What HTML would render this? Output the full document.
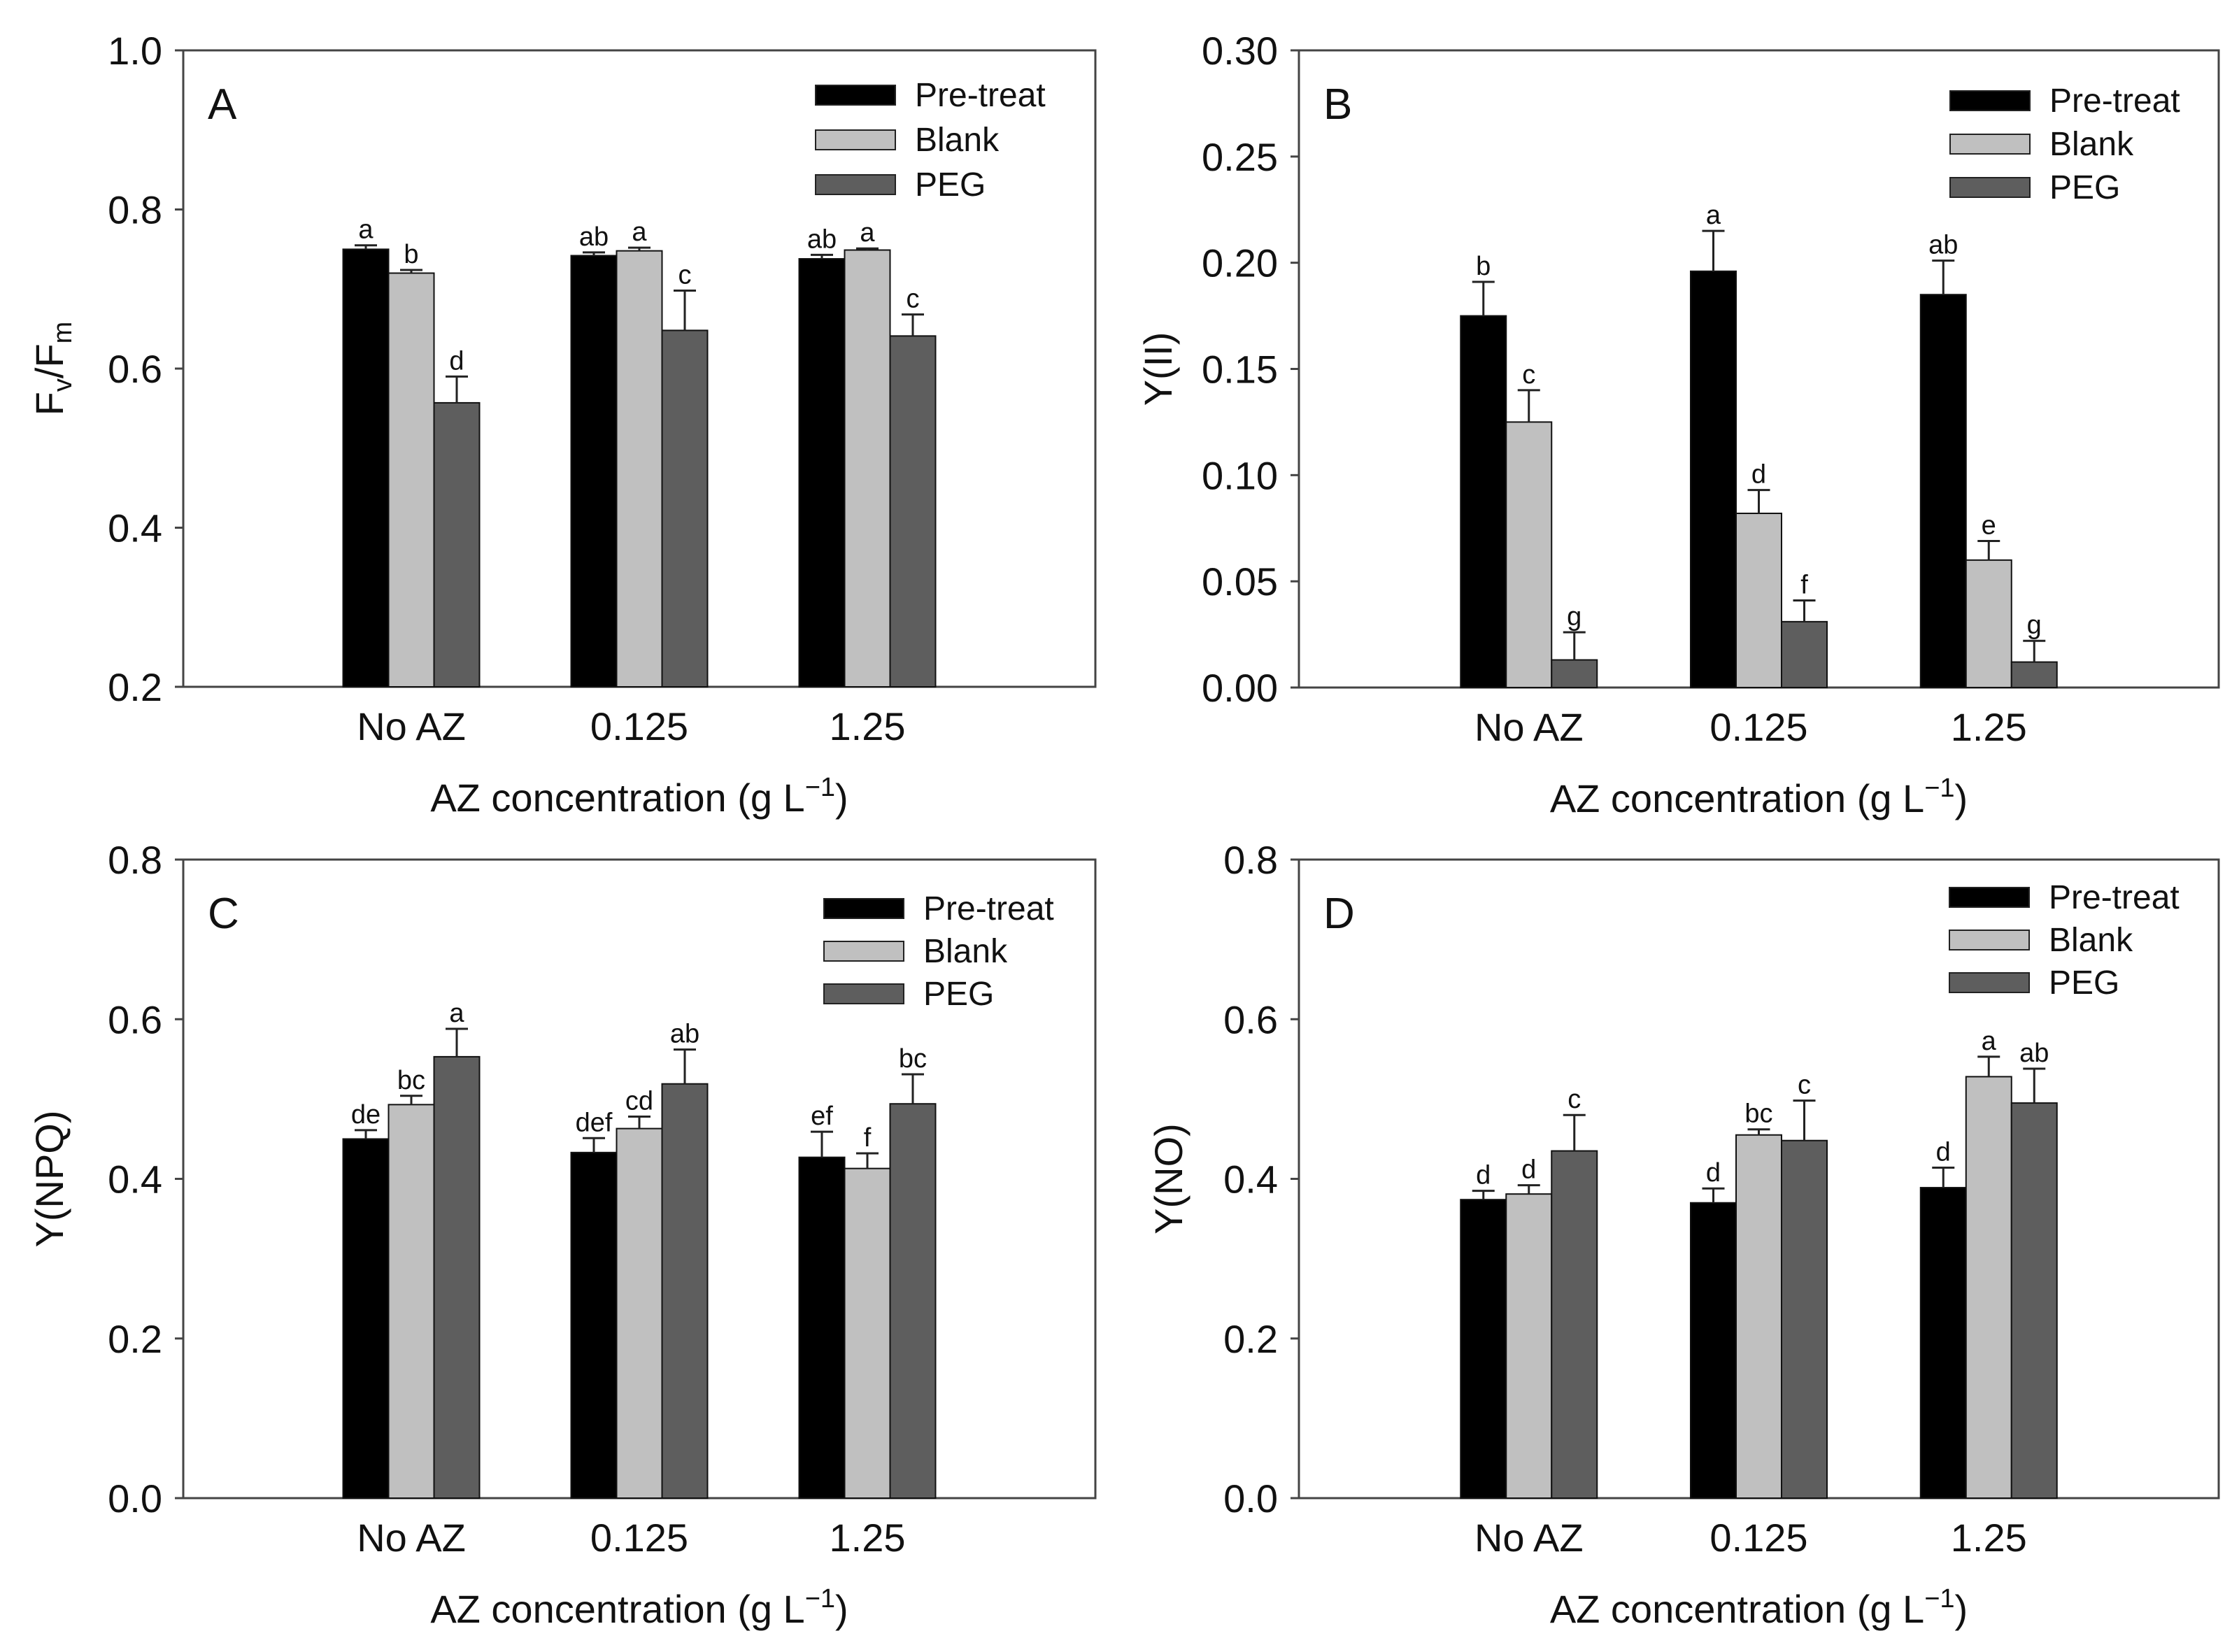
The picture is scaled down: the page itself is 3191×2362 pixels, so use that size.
<!DOCTYPE html>
<html><head><meta charset="utf-8"><style>
html,body{margin:0;padding:0;background:#fff}
svg{display:block}
text{font-family:"Liberation Sans",sans-serif;fill:#111}
</style></head><body>
<svg id="fig" width="3191" height="2362" viewBox="0 0 3191 2362" xmlns="http://www.w3.org/2000/svg"></svg>
<script>
const categories = ["No AZ","0.125","1.25"];
const seriesNames = ["Pre-treat","Blank","PEG"];
// Panel A
const aPre = [0.750,0.742,0.738], aPreErr=[0.005,0.004,0.005];
const aBlank = [0.720,0.748,0.749], aBlankErr=[0.004,0.004,0.002];
const aPeg = [0.557,0.648,0.641], aPegErr=[0.033,0.050,0.027];
const aLetters = [["a","ab","ab"],["b","a","a"],["d","c","c"]];
const aTicks = ["0.2","0.4","0.6","0.8","1.0"];
// Panel B
const bPre = [0.175,0.196,0.185], bPreErr=[0.016,0.019,0.016];
const bBlank = [0.125,0.082,0.060], bBlankErr=[0.015,0.011,0.009];
const bPeg = [0.013,0.031,0.012], bPegErr=[0.013,0.010,0.010];
const bLetters = [["b","a","ab"],["c","d","e"],["g","f","g"]];
const bTicks = ["0.00","0.05","0.10","0.15","0.20","0.25","0.30"];
// Panel C
const cPre = [0.450,0.433,0.427], cPreErr=[0.011,0.018,0.032];
const cBlank = [0.493,0.463,0.413], cBlankErr=[0.011,0.015,0.019];
const cPeg = [0.553,0.519,0.494], cPegErr=[0.035,0.043,0.037];
const cLetters = [["de","def","ef"],["bc","cd","f"],["a","ab","bc"]];
const cTicks = ["0.0","0.2","0.4","0.6","0.8"];
// Panel D
const dPre = [0.374,0.370,0.389], dPreErr=[0.011,0.018,0.025];
const dBlank = [0.381,0.455,0.528], dBlankErr=[0.011,0.007,0.025];
const dPeg = [0.435,0.448,0.495], dPegErr=[0.045,0.050,0.043];
const dLetters = [["d","d","d"],["d","bc","a"],["c","c","ab"]];
const dTicks = ["0.0","0.2","0.4","0.6","0.8"];

const NS="http://www.w3.org/2000/svg";
const svg=document.getElementById('fig');
const colors=["#000000","#c0c0c0","#5e5e5e"];
function mk(tag,attrs,parent){const e=document.createElementNS(NS,tag);for(const k in attrs)e.setAttribute(k,attrs[k]);(parent||svg).appendChild(e);return e;}

function panel(o){
  const g=mk('g',{});
  
  
  const L=o.x0,R=o.x1,T=o.y0,B=o.y1;
  const ymin=parseFloat(o.ticks[0]),ymax=parseFloat(o.ticks[o.ticks.length-1]);
  const ys=v=>B-(v-ymin)/(ymax-ymin)*(B-T);
  const xc=i=>L+(R-L)*(i+1)/4;
  const bw=65;
  const fr=mk('rect',{x:L,y:T,width:R-L,height:B-T,fill:'none',stroke:'#444','stroke-width':3},g);
  
  
  o.ticks.forEach(t=>{
    const y=ys(parseFloat(t));
    const tl=mk('line',{x1:L-12,x2:L,y1:y,y2:y,stroke:'#444','stroke-width':3},g);
    
    
    const tx=mk('text',{x:L-30,y:y+20,'text-anchor':'end','font-size':56},g);
    tx.textContent=t;
    
    
  });
  const series=[o.pre,o.blank,o.peg],errs=[o.preErr,o.blankErr,o.pegErr];
  series.forEach((vals,s)=>{
    vals.forEach((v,i)=>{
      const x=xc(i)+(s-1)*bw-bw/2;
      const y=ys(v);
      const r=mk('rect',{x:x,y:y,width:bw,height:B-y,fill:colors[s],stroke:'#111','stroke-width':2},g);
      
      
      const ye=ys(v+errs[s][i]);
      const cx=x+bw/2;
      const el=mk('path',{d:`M${cx},${y} L${cx},${ye} M${cx-16},${ye} L${cx+16},${ye}`,stroke:'#222','stroke-width':3,fill:'none'},g);
      
      
      const lt=mk('text',{x:cx,y:ye-10,'text-anchor':'middle','font-size':38},g);
      lt.textContent=o.letters[s][i];
      
      
    });
  });
  categories.forEach((c,i)=>{
    const t=mk('text',{x:xc(i),y:B+76,'text-anchor':'middle','font-size':56},g);
    t.textContent=c;
    
    
  });
  const xt=mk('text',{x:(L+R)/2,y:B+178,'text-anchor':'middle','font-size':56},g);
  xt.innerHTML='AZ concentration (g L<tspan dy="-22" font-size="38">−1</tspan><tspan dy="22">)</tspan>';
  
  
  const yt=mk('text',{x:0,y:0,'text-anchor':'middle','font-size':56,transform:`translate(${o.ytx},${(T+B)/2}) rotate(-90)`},g);
  yt.innerHTML=o.ytitle;
  
  
  const pl=mk('text',{x:L+35,y:T+98,'font-size':62},g);
  pl.textContent=o.id;
  
  
  seriesNames.forEach((n,s)=>{
    const y=o.legY+s*o.legDy;
    const sw=mk('rect',{x:o.legX,y:y-14,width:114,height:28,fill:colors[s],stroke:'#222','stroke-width':2},g);
    
    
    const t=mk('text',{x:o.legX+142,y:y+16,'font-size':48},g);
    t.textContent=n;
    
    
  });
}
panel({id:'A',x0:262,x1:1566,y0:72,y1:982,ticks:aTicks,pre:aPre,preErr:aPreErr,blank:aBlank,blankErr:aBlankErr,peg:aPeg,pegErr:aPegErr,letters:aLetters,ytx:90,ytitle:'F<tspan dy="12" font-size="38">v</tspan><tspan dy="-12">/F</tspan><tspan dy="12" font-size="38">m</tspan>',legX:1166,legY:136,legDy:64});
panel({id:'B',x0:1857,x1:3172,y0:72,y1:983,ticks:bTicks,pre:bPre,preErr:bPreErr,blank:bBlank,blankErr:bBlankErr,peg:bPeg,pegErr:bPegErr,letters:bLetters,ytx:1675,ytitle:'Y(II)',legX:2788,legY:144,legDy:62});
panel({id:'C',x0:262,x1:1566,y0:1229,y1:2142,ticks:cTicks,pre:cPre,preErr:cPreErr,blank:cBlank,blankErr:cBlankErr,peg:cPeg,pegErr:cPegErr,letters:cLetters,ytx:90,ytitle:'Y(NPQ)',legX:1178,legY:1299,legDy:61});
panel({id:'D',x0:1857,x1:3172,y0:1229,y1:2142,ticks:dTicks,pre:dPre,preErr:dPreErr,blank:dBlank,blankErr:dBlankErr,peg:dPeg,pegErr:dPegErr,letters:dLetters,ytx:1690,ytitle:'Y(NO)',legX:2787,legY:1283,legDy:61});
</script>
</body></html>
